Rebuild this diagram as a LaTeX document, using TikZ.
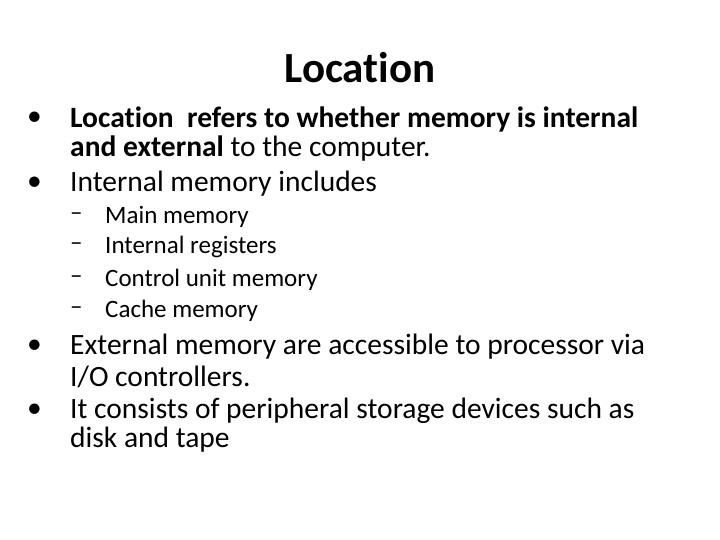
\documentclass[tikz,border=0pt]{standalone}
\usepackage{fontspec}
\setmainfont{Carlito}[RawFeature=-liga]
\begin{document}
\begin{tikzpicture}[x=1pt,y=-1pt,
  t/.style={anchor=west,inner sep=0pt,font=\fontsize{29.5}{32}\selectfont},
  s/.style={anchor=west,inner sep=0pt,font=\fontsize{25}{28}\selectfont}]
\useasboundingbox (0,0) rectangle (720,540);
\node[inner sep=0pt,font=\fontsize{43}{46}\selectfont\bfseries] (title) at (360,68) {Location};
\node[t] (b1) at (27,119) {•};
\node[t] (l1) at (70,119) {\textbf{Location\ \ refers to whether memory is internal}};
\node[t] (l2) at (70,149) {\textbf{and external} to the computer.};
\node[t] (b2) at (27,184) {•};
\node[t] (l3) at (70,184) {Internal memory includes};
\node[s] (d1) at (70,217) {\raisebox{-2pt}{–}}; \node[s] (s1) at (105,217) {Main memory};
\node[s] (d2) at (70,247) {\raisebox{-2pt}{–}}; \node[s] (s2) at (105,247) {Internal registers};
\node[s] (d3) at (70,280) {\raisebox{-2pt}{–}}; \node[s] (s3) at (105,280) {Control unit memory};
\node[s] (d4) at (70,311) {\raisebox{-2pt}{–}}; \node[s] (s4) at (105,311) {Cache memory};
\node[t] (b3) at (27,347) {•};
\node[t] (l4) at (70,347) {External memory are accessible to processor via};
\node[t] (l5) at (70,377) {I/O controllers.};
\node[t] (b4) at (27,411) {•};
\node[t] (l6) at (70,411) {It consists of peripheral storage devices such as};
\node[t] (l7) at (70,440) {disk and tape};
\end{tikzpicture}
\end{document}
